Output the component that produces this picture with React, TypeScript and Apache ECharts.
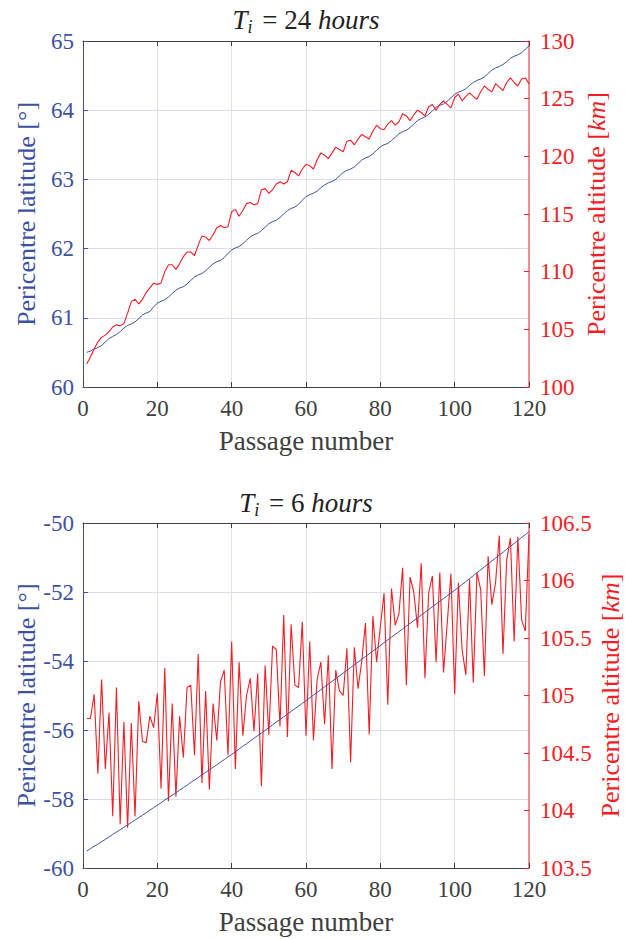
import React, { useEffect, useRef } from "react";
import * as echarts from "echarts";

const xTicks = [0, 20, 40, 60, 80, 100, 120];

const latTop = [
  60.5, 60.52, 60.55, 60.57, 60.6, 60.65, 60.7, 60.73, 60.76, 60.8,
  60.85, 60.89, 60.91, 60.94, 60.99, 61.04, 61.07, 61.09, 61.16, 61.21,
  61.24, 61.26, 61.3, 61.35, 61.4, 61.43, 61.45, 61.49, 61.54, 61.59,
  61.62, 61.64, 61.68, 61.73, 61.78, 61.81, 61.83, 61.87, 61.93, 61.98,
  62.01, 62.03, 62.07, 62.12, 62.17, 62.2, 62.22, 62.26, 62.31, 62.36,
  62.39, 62.41, 62.45, 62.5, 62.55, 62.58, 62.6, 62.64, 62.7, 62.75,
  62.78, 62.8, 62.83, 62.88, 62.92, 62.95, 62.97, 63.0, 63.05, 63.1,
  63.13, 63.15, 63.18, 63.23, 63.28, 63.31, 63.33, 63.37, 63.42, 63.47,
  63.5, 63.52, 63.56, 63.61, 63.66, 63.69, 63.71, 63.75, 63.8, 63.85,
  63.88, 63.9, 63.94, 63.99, 64.04, 64.07, 64.09, 64.13, 64.18, 64.23,
  64.26, 64.28, 64.31, 64.36, 64.4, 64.43, 64.45, 64.48, 64.53, 64.58,
  64.61, 64.63, 64.66, 64.7, 64.75, 64.78, 64.8, 64.83, 64.88, 64.93,
];

const altTop = [
  102.0, 102.6, 103.3, 103.9, 104.3, 104.5, 104.8, 105.2, 105.4, 105.3,
  105.5, 106.4, 107.4, 107.6, 107.2, 107.6, 108.2, 108.6, 109.0, 108.9,
  109.0, 110.0, 110.6, 110.6, 110.2, 110.7, 111.3, 111.7, 111.7, 111.4,
  112.3, 113.1, 113.0, 112.7, 113.2, 113.8, 114.0, 113.8, 113.9, 115.2,
  115.4, 114.8, 115.3, 115.9, 116.0, 115.8, 115.9, 117.1, 117.2, 116.8,
  117.1, 117.6, 117.8, 117.6, 117.8, 118.8, 118.6, 118.3, 118.9, 119.3,
  119.2, 118.9, 119.7, 120.3, 120.1, 119.8, 120.3, 120.8, 120.6, 120.4,
  121.3, 121.4, 121.0, 121.5, 121.9, 121.7, 121.5, 122.2, 122.7, 122.4,
  122.3, 122.8, 123.1, 122.7, 123.0, 123.7, 123.5, 123.1, 123.6, 124.0,
  123.8, 123.5, 124.3, 124.5, 124.0, 124.5, 124.8, 124.5, 124.2, 125.1,
  125.4, 124.8, 125.2, 125.5, 125.2, 124.95, 125.6, 126.1, 125.8, 125.6,
  126.3, 126.0, 125.7, 126.4, 126.8, 126.4, 126.1, 126.7, 126.8, 126.3,
];

const latBot = [
  -59.51, -59.44, -59.37, -59.31, -59.24, -59.17, -59.1, -59.03, -58.96, -58.89,
  -58.82, -58.75, -58.68, -58.61, -58.54, -58.47, -58.4, -58.32, -58.25, -58.18,
  -58.11, -58.03, -57.96, -57.89, -57.82, -57.74, -57.67, -57.6, -57.52, -57.45,
  -57.38, -57.3, -57.23, -57.15, -57.08, -57.01, -56.93, -56.86, -56.78, -56.71,
  -56.63, -56.55, -56.47, -56.4, -56.32, -56.24, -56.16, -56.09, -56.01, -55.93,
  -55.85, -55.77, -55.7, -55.62, -55.54, -55.46, -55.38, -55.31, -55.23, -55.15,
  -55.07, -54.99, -54.91, -54.83, -54.75, -54.67, -54.59, -54.51, -54.43, -54.35,
  -54.27, -54.19, -54.11, -54.03, -53.95, -53.87, -53.79, -53.71, -53.63, -53.55,
  -53.47, -53.39, -53.31, -53.23, -53.15, -53.07, -52.99, -52.91, -52.83, -52.75,
  -52.67, -52.59, -52.51, -52.43, -52.35, -52.27, -52.19, -52.11, -52.03, -51.95,
  -51.87, -51.78, -51.7, -51.61, -51.53, -51.44, -51.36, -51.27, -51.19, -51.1,
  -51.02, -50.93, -50.85, -50.76, -50.68, -50.59, -50.51, -50.42, -50.34, -50.25,
];

const altBot = [
  104.8, 104.8, 105.01, 104.32, 105.14, 104.36, 104.85, 103.95, 105.07, 103.88,
  104.77, 103.85, 104.76, 103.95, 104.95, 104.6, 104.59, 104.82, 104.72, 105.02,
  104.19, 105.24, 104.08, 104.93, 104.12, 104.82, 104.46, 105.07, 105.09, 104.48,
  105.36, 104.24, 105.04, 104.18, 104.93, 104.61, 105.12, 105.22, 104.48, 105.47,
  104.36, 105.29, 104.65, 105.0, 105.15, 104.69, 105.19, 104.21, 105.26, 104.66,
  105.43, 105.4, 104.73, 105.7, 104.64, 105.62, 105.09, 105.07, 105.64, 104.65,
  105.47, 104.61, 105.14, 105.29, 104.75, 105.35, 104.36, 105.22, 105.04, 105.0,
  105.41, 104.42, 105.42, 105.06, 105.3, 105.63, 104.66, 105.69, 105.29, 105.6,
  105.89, 104.92, 105.93, 105.61, 105.71, 106.11, 105.09, 106.03, 105.9, 105.59,
  106.15, 105.15, 105.89, 106.04, 105.29, 106.07, 105.2, 105.63, 106.06, 105.01,
  105.98, 105.4, 105.18, 106.01, 105.11, 106.07, 105.92, 105.17, 106.21, 105.79,
  105.98, 106.39, 105.36, 106.18, 106.37, 105.47, 106.38, 105.66, 105.56, 106.4,
];

const BLUE = "#3d51a3";
const RED = "#f21d25";
const GRAY = "#404040";
const FONT = "Liberation Serif";

const pairs = (vals: number[]) => vals.map((v, i) => [i + 1, v]);

function xAxisPair(gridIndex: number) {
  return [
    {
      type: "value",
      gridIndex,
      position: "bottom",
      min: xTicks[0],
      max: xTicks[xTicks.length - 1],
      interval: 20,
      name: "Passage number",
      nameLocation: "middle",
      nameGap: 40,
      nameMoveOverlap: false,
      nameTextStyle: { fontFamily: FONT, fontSize: 27, color: GRAY },
      axisLine: { show: true, onZero: false, lineStyle: { color: GRAY, width: 1 } },
      axisTick: { show: true, inside: true, length: 5, lineStyle: { color: GRAY } },
      axisLabel: { fontFamily: FONT, fontSize: 23, color: GRAY, margin: 10 },
      splitLine: { show: true, lineStyle: { color: "#e2e2e2", width: 1 } },
    },
    {
      type: "value",
      gridIndex,
      position: "top",
      min: xTicks[0],
      max: xTicks[xTicks.length - 1],
      interval: 20,
      axisLine: { show: true, onZero: false, lineStyle: { color: GRAY, width: 1 } },
      axisTick: { show: true, inside: true, length: 5, lineStyle: { color: GRAY } },
      axisLabel: { show: false },
      splitLine: { show: false },
    },
  ];
}

function yLeft(gridIndex: number, min: number, max: number, interval: number) {
  return {
    type: "value",
    gridIndex,
    position: "left",
    min,
    max,
    interval,
    name: "Pericentre latitude [°]",
    nameLocation: "middle",
    nameGap: 44,
    nameMoveOverlap: false,
    nameTextStyle: { fontFamily: FONT, fontSize: 26, color: BLUE },
    axisLine: { show: true, onZero: false, lineStyle: { color: BLUE, width: 1 } },
    axisTick: { show: true, inside: true, length: 5, lineStyle: { color: BLUE } },
    axisLabel: { fontFamily: FONT, fontSize: 23, color: BLUE, margin: 9, formatter: (v: number) => String(v).replace("−", "-") },
    splitLine: { show: true, lineStyle: { color: "#dcdcf0", width: 1 } },
  };
}

function yRight(gridIndex: number, min: number, max: number, interval: number, nameGap: number) {
  return {
    type: "value",
    gridIndex,
    position: "right",
    min,
    max,
    interval,
    name: "Pericentre altitude [{it|km}]",
    nameLocation: "middle",
    nameGap,
    nameMoveOverlap: false,
    nameTextStyle: {
      fontFamily: FONT,
      fontSize: 26,
      color: RED,
      rich: { it: { fontFamily: FONT, fontSize: 26, color: RED, fontStyle: "italic" } },
    },
    axisLine: { show: true, onZero: false, lineStyle: { color: "#f26a6e", width: 1.5 } },
    axisTick: { show: true, inside: true, length: 5, lineStyle: { color: RED } },
    axisLabel: { fontFamily: FONT, fontSize: 23, color: RED, margin: 11 },
    splitLine: { show: false },
  };
}

function titleText(hours: string, y: number) {
  return {
    type: "text",
    x: 306,
    y,
    style: {
      text: `{it|T}{sub|i}{rm| = ${hours} }{it|hours}`,
      align: "center",
      verticalAlign: "middle",
      fill: "#222",
      rich: {
        it: { fontFamily: FONT, fontSize: 27, fontStyle: "italic", fill: "#222", lineHeight: 30 },
        rm: { fontFamily: FONT, fontSize: 27, fill: "#222", lineHeight: 30 },
        sub: { fontFamily: FONT, fontSize: 18, fontStyle: "italic", fill: "#222", lineHeight: 30, padding: [14, 3, 0, 0] },
      },
    },
  };
}

export default function App() {
  const ref = useRef<HTMLDivElement>(null);
  useEffect(() => {
    if (!ref.current) return;
    const chart = echarts.init(ref.current, undefined, { renderer: "svg" });
    chart.setOption({
      animation: false,
      backgroundColor: "#ffffff",
      grid: [
        { left: 83, top: 41, width: 446, height: 346, outerBoundsMode: "none", containLabel: false },
        { left: 83, top: 523, width: 446, height: 345, outerBoundsMode: "none", containLabel: false },
      ],
      xAxis: [...xAxisPair(0), ...xAxisPair(1)],
      yAxis: [yLeft(0, 60, 65, 1), yRight(0, 100, 130, 5, 54), yLeft(1, -60, -50, 2), yRight(1, 103.5, 106.5, 0.5, 68)],
      graphic: [titleText("24", 20), titleText("6", 503)],
      series: [
        { type: "line", xAxisIndex: 0, yAxisIndex: 0, data: pairs(latTop), showSymbol: false, lineStyle: { color: BLUE, width: 1 }, z: 3 },
        { type: "line", xAxisIndex: 0, yAxisIndex: 1, data: pairs(altTop), showSymbol: false, lineStyle: { color: RED, width: 1.1 }, z: 4 },
        { type: "line", xAxisIndex: 2, yAxisIndex: 2, data: pairs(latBot), showSymbol: false, lineStyle: { color: BLUE, width: 1 }, z: 4 },
        { type: "line", xAxisIndex: 2, yAxisIndex: 3, data: pairs(altBot), showSymbol: false, lineStyle: { color: RED, width: 1.1 }, z: 3 },
      ],
    });
    return () => chart.dispose();
  }, []);
  return <div ref={ref} style={{ width: 625, height: 939, position: "absolute", left: 0, top: 0 }} />;
}
